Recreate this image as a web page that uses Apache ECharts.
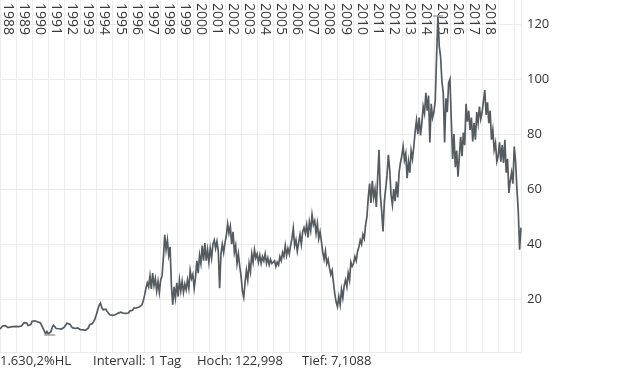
<!DOCTYPE html>
<html>
<head>
<meta charset="utf-8">
<script src="https://cdn.jsdelivr.net/npm/echarts@6/dist/echarts.min.js"></script>
<style>
  html, body { margin: 0; padding: 0; background: #fff; }
  #chart { width: 620px; height: 372px; }
</style>
</head>
<body>
<div id="chart"></div>
<script>
// ---- data (monthly closes, starting Jan 1988) ----
const startYear = 1988;
const prices1988to1997 = [
  9.2, 9.8, 10.3, 9.9, 10.4, 10.1, 9.7, 10.3, 10.0, 10.5, 10.1, 10.4,
  10.2, 10.6, 10.1, 10.5, 10.3, 10.8, 11.5, 12.2, 11.4, 10.5, 10.0, 10.8,
  12.0, 12.7, 12.2, 11.5, 11.8, 11.2, 11.5, 10.6, 9.6, 8.5, 7.5, 8.3,
  7.4, 7.1088, 8.2, 9.8, 10.6, 10.0, 9.4, 9.9, 9.3, 9.7, 9.2, 9.6,
  9.9, 10.6, 11.3, 11.7, 11.0, 10.3, 9.7, 10.1, 9.4, 9.2, 9.6, 9.1,
  9.0, 9.4, 8.9, 9.2, 8.8, 9.1, 9.6, 10.8, 10.4, 11.2, 12.0, 13.0,
  14.5, 16.2, 17.8, 18.6, 17.0, 16.2, 15.5, 16.4, 15.6, 15.0, 14.4, 13.9,
  14.2, 13.8, 14.4, 14.0, 14.9, 15.6, 15.3, 15.8, 15.0, 14.4, 14.9, 14.3,
  15.0, 15.8, 16.5, 16.0, 16.8, 16.3, 16.9, 16.4, 17.2, 16.8, 18.0, 19.5,
  21.5, 24.0, 26.0, 24.5, 28.5, 23.8, 29.5, 25.0, 27.5, 23.0, 26.5, 22.5
];
const prices1998to2007 = [
  27.0, 28.5, 35.0, 43.4, 38.0, 41.5, 36.0, 39.0, 25.0, 18.0, 24.5, 20.5,
  26.0, 21.0, 27.0, 23.0, 26.5, 22.5, 25.5, 23.5, 27.0, 24.0, 30.5, 27.5,
  29.0, 24.0, 28.0, 34.0, 29.5, 36.0, 33.0, 39.5, 34.0, 40.4, 34.0, 38.0,
  33.5, 38.5, 35.0, 40.0, 41.5, 38.5, 41.0, 37.5, 24.0, 36.5, 40.0, 37.0,
  40.5, 43.0, 47.4, 44.0, 46.5, 40.0, 44.5, 37.0, 39.5, 33.0, 36.5, 32.0,
  28.5, 23.0, 20.7, 26.0, 30.5, 27.0, 33.0, 30.0, 36.5, 33.5, 38.0, 35.0,
  36.5, 33.5, 36.0, 33.0, 35.5, 34.0, 36.5, 33.0, 35.0, 32.5, 34.5, 33.0,
  32.5, 34.0, 31.9, 33.5, 32.5, 35.5, 34.0, 37.0, 35.5, 39.5, 36.0, 38.5,
  36.5, 39.5, 42.0, 45.8, 39.5, 41.5, 37.5, 40.5, 43.5, 40.0, 44.5, 46.0,
  44.0, 47.0, 42.5, 48.0, 45.0, 50.7, 47.0, 48.5, 44.0, 47.5, 42.0, 44.5
];
const prices2008to2020 = [
  41.0, 37.0, 34.5, 37.5, 33.0, 34.5, 31.5, 29.0, 30.5, 26.0, 22.0, 19.0,
  17.3, 21.0, 18.0, 23.5, 20.5, 25.0, 27.0, 24.5, 29.5, 27.0, 33.5, 32.0,
  33.0, 35.5, 34.0, 37.5, 39.0, 41.5, 40.0, 43.5, 42.0, 47.0, 50.0, 57.0,
  62.0, 55.0, 63.0, 57.0, 60.0, 53.5, 64.0, 74.3, 58.0, 52.0, 44.6, 55.5,
  55.0, 65.0, 72.5, 67.0, 58.0, 54.3, 60.0, 55.6, 62.8, 57.0, 66.0, 69.5,
  72.0, 75.5, 70.6, 73.0, 64.0, 70.0, 66.0, 74.0, 71.0, 75.5, 81.0, 85.0,
  80.0, 86.0, 79.5, 84.0, 90.0, 87.5, 95.0, 88.5, 94.0, 77.0, 91.0, 86.0,
  88.0, 92.0, 108.0, 122.998, 112.0, 108.0, 99.0, 95.0, 77.0, 93.0, 88.0, 98.6,
  100.0, 85.0, 71.0, 80.0, 68.0, 74.0, 64.5, 72.0, 79.0, 72.0, 80.5, 76.0,
  91.0, 84.5, 88.5, 81.5, 86.0, 77.3, 84.0, 78.0, 88.0, 84.0, 90.0, 85.5,
  88.0, 92.0, 96.0, 87.0, 91.5, 84.0, 88.5, 78.0, 81.5, 74.3, 76.8, 70.0,
  72.0, 77.0, 70.0, 76.0, 69.5, 77.9, 66.0, 71.0, 58.6, 63.0, 66.0, 62.0,
  75.5, 70.0, 60.0, 52.0, 38.0, 46.0
];
const yearLabels = [];
for (let y = 1988; y <= 2018; y++) yearLabels.push(y);
const yTicks = [20, 40, 60, 80, 100, 120];
const hoch = 122.998;
const tief = 7.1088;
const intervalText = 'Intervall: 1 Tag';

// ---- build ----
const prices = prices1988to1997.concat(prices1998to2007, prices2008to2020);
const seriesData = prices.map((v, i) => [startYear + i / 12, v]);
let hiIdx = 0, loIdx = 0;
prices.forEach((v, i) => { if (v > prices[hiIdx]) hiIdx = i; if (v < prices[loIdx]) loIdx = i; });
const hiYear = seriesData[hiIdx][0], loYear = seriesData[loIdx][0];

const fmtDe = (v, d) => v.toFixed(d).replace('.', ',');
const hlPct = (hoch / tief - 1) * 100;
const hlText = (function () {
  const s = hlPct.toFixed(1).split('.');
  const intPart = s[0].replace(/\B(?=(\d{3})+(?!\d))/g, '.');
  return intPart + ',' + s[1] + '%HL';
})();

const xMin = 1988, xMax = 2020.42;
const yMin = 0.86, yMax = 128.7;
const FONT = 'Open Sans';

const chart = echarts.init(document.getElementById('chart'), null, { renderer: 'canvas' });
chart.setOption({
  animation: false,
  backgroundColor: '#fff',
  grid: { left: 0, right: 99, top: 0, bottom: 20, containLabel: false },
  xAxis: [
    {
      type: 'value', min: xMin, max: xMax, interval: 1, position: 'bottom',
      axisLine: { show: false }, axisTick: { show: false }, axisLabel: { show: false },
      splitLine: { show: true, lineStyle: { color: '#ececec', width: 1 } }
    },
    {
      type: 'value', min: xMin - 0.5, max: xMax - 0.5, minInterval: 1, maxInterval: 1,
      position: 'top',
      axisLine: { show: false }, axisTick: { show: false }, splitLine: { show: false },
      axisLabel: {
        inside: true, rotate: 90, margin: 3,
        fontFamily: FONT, fontSize: 14, color: '#3a3a3a',
        formatter: function (v) {
          return (Math.abs(v - Math.round(v)) < 1e-6 && yearLabels.indexOf(Math.round(v)) >= 0) ? String(Math.round(v)) : '';
        }
      }
    }
  ],
  yAxis: {
    type: 'value', min: yMin, max: yMax, minInterval: 20, maxInterval: 20, position: 'right',
    axisLine: { show: false }, axisTick: { show: false },
    axisLabel: {
      margin: 6, fontFamily: FONT, fontSize: 13, color: '#333',
      formatter: function (v) { return yTicks.indexOf(Math.round(v)) >= 0 && Math.abs(v - Math.round(v)) < 1e-6 ? String(Math.round(v)) : ''; }
    },
    splitLine: { show: true, showMaxLine: false, lineStyle: { color: '#ececec', width: 1 } }
  },
  series: [{
    type: 'line', xAxisIndex: 0, data: seriesData, showSymbol: false, symbol: 'none',
    lineStyle: { color: '#545b61', width: 1.7, join: 'miter' },
    silent: true,
    markLine: {
      silent: true, symbol: 'none', label: { show: false },
      lineStyle: { color: '#a0a0a0', type: 'solid', width: 1.5 },
      data: [
        [{ coord: [loYear - 0.33, tief] }, { coord: [loYear + 0.35, tief] }],
        [{ coord: [hiYear - 0.3, hoch] }, { coord: [hiYear + 0.33, hoch] }]
      ]
    }
  }],
  graphic: [
    { type: 'text', left: 0, top: 355, style: { text: hlText, font: '13px "Open Sans"', fill: '#333' } },
    { type: 'text', left: 93, top: 355, style: { text: intervalText, font: '13px "Open Sans"', fill: '#333' } },
    { type: 'text', left: 197, top: 355, style: { text: 'Hoch:', font: '13px "Open Sans"', fill: '#333' } },
    { type: 'text', left: 235, top: 355, style: { text: fmtDe(hoch, 3), font: '13px "Open Sans"', fill: '#333' } },
    { type: 'text', left: 302, top: 355, style: { text: 'Tief: ' + fmtDe(tief, 4), font: '13px "Open Sans"', fill: '#333' } }
  ]
});
</script>
</body>
</html>
